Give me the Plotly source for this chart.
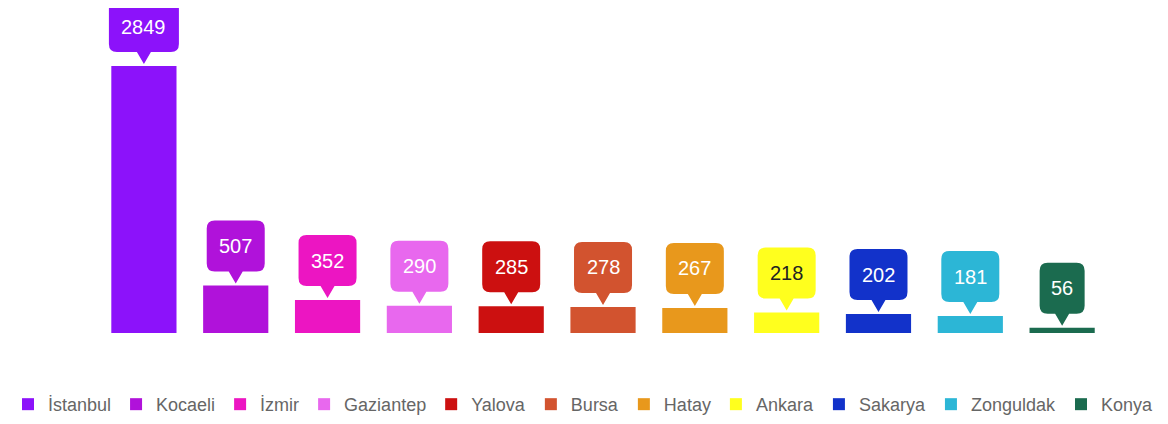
import plotly.graph_objects as go

cities = ["İstanbul", "Kocaeli", "İzmir", "Gaziantep", "Yalova", "Bursa",
          "Hatay", "Ankara", "Sakarya", "Zonguldak", "Konya"]
values = [2849, 507, 352, 290, 285, 278, 267, 218, 202, 181, 56]
colors = ["#8C12FA", "#B012DA", "#EC15C2", "#E868EE", "#CC1010", "#D2532F",
          "#E8981C", "#FFFF1E", "#1232CA", "#2CB6D6", "#1B6B4F"]
label_colors = ["white"] * 7 + ["#222222"] + ["white"] * 3

fig = go.Figure()
for c, v, col in zip(cities, values, colors):
    fig.add_trace(go.Bar(x=[c], y=[v], name=c, marker=dict(color=col, line=dict(width=0)),
                         width=0.71, hoverinfo="x+y"))

shapes = []
annotations = []
for c, v, col, tc in zip(cities, values, colors, label_colors):
    n = len(str(v))
    w = {2: 45, 3: 58, 4: 70}.get(n, 58)
    hw = w / 2
    r = 8
    tip, pb, top = 2, 14, 65
    path = (f"M 0,{tip} L 7,{pb} L {hw-r},{pb} Q {hw},{pb} {hw},{pb+r} "
            f"L {hw},{top-r} Q {hw},{top} {hw-r},{top} L {-hw+r},{top} "
            f"Q {-hw},{top} {-hw},{top-r} L {-hw},{pb+r} Q {-hw},{pb} {-hw+r},{pb} "
            f"L -7,{pb} Z")
    shapes.append(dict(type="path", xref="x", yref="y", xsizemode="pixel", ysizemode="pixel",
                       xanchor=c, yanchor=v, path=path, fillcolor=col,
                       line=dict(width=0), layer="above"))
    annotations.append(dict(x=c, y=v, xref="x", yref="y", text=str(v), showarrow=False,
                            yshift=(pb + top) / 2, yanchor="middle",
                            font=dict(family="Arial, Liberation Sans", size=20, color=tc)))

fig.update_layout(
    width=1160, height=416,
    margin=dict(l=90, r=0, t=0, b=91, autoexpand=False),
    paper_bgcolor="white", plot_bgcolor="white",
    barmode="overlay",
    showlegend=True,
    legend=dict(orientation="h", x=-0.0841, xanchor="left", y=-0.163, yanchor="top",
                font=dict(family="Arial, Liberation Sans", size=18, color="#666666"),
                itemclick=False, itemdoubleclick=False, traceorder="normal"),
    xaxis=dict(visible=False, range=[-0.5, 11.153], categoryorder="array", categoryarray=cities),
    yaxis=dict(visible=False, range=[0, 3468]),
    shapes=shapes, annotations=annotations,
)

fig.write_html("out.html")
